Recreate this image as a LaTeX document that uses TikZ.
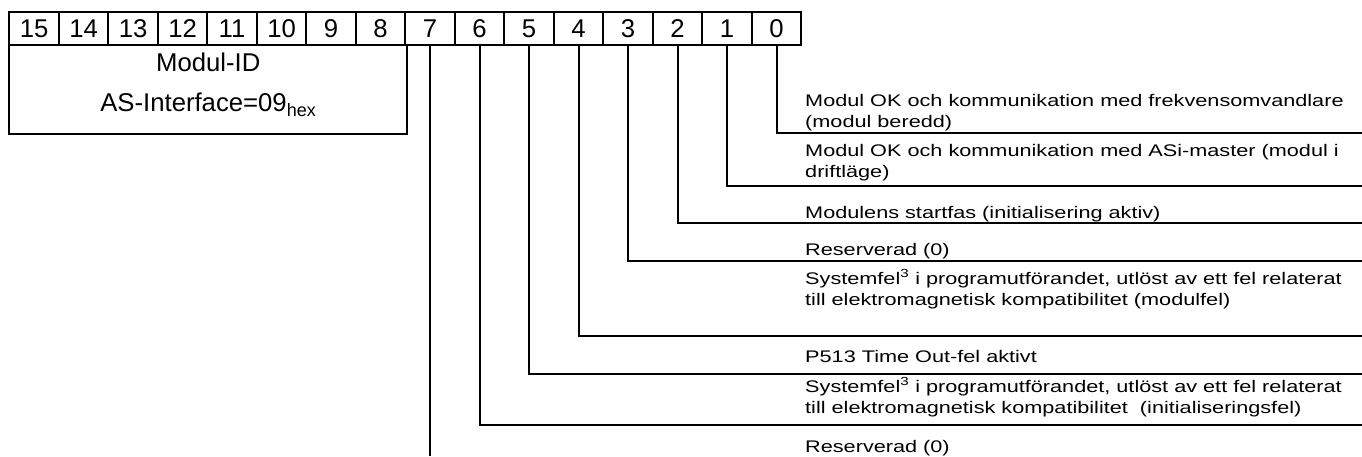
\documentclass[tikz,border=0pt]{standalone}
\usepackage{fontspec}
\setmainfont{Liberation Sans}
\newfontfamily\labelfont[FakeStretch=1.29]{Liberation Sans}
\usepackage{tikz}

\tikzset{
  bitcell/.style={draw, line width=2pt, minimum width=49.5pt, minimum height=33pt, inner sep=0pt, font=\fontsize{25.7}{30}\selectfont},
  idtext/.style={anchor=base, inner sep=0pt, font=\fontsize{25.7}{30}\selectfont},
  bitline/.style={line width=2pt},
  bitlabel/.style={anchor=base west, align=left, inner sep=0pt, font=\labelfont\fontsize{16.8}{21}\selectfont}
}

\begin{document}
\begin{tikzpicture}[x=1pt,y=1pt]
\useasboundingbox (0,0) rectangle (1362,-456);
% bit numbers 15..0
\foreach \i in {15,...,0}
  \node[bitcell] (b\i) at ({9.3+(15-\i)*49.5+24.75},-28.5) {\i};
% module id box under bits 15..8
\node[draw, line width=2pt, minimum width=398pt, minimum height=88.5pt, inner sep=0pt] (modid) at (208.3,-89.25) {};
\node[idtext] (idname) at (208.3,-71.7) {Modul-ID};
\node[idtext] (idvalue) at (208.3,-111.7) {AS-Interface=09\textsubscript{hex}};
% leads from bits 0..6 to the right edge
\foreach \i/\y in {0/133,1/185.5,2/222.7,3/261,4/336,5/373.5,6/425}{
  \coordinate (e\i) at (1362,-\y);
  \draw[bitline] (b\i.south) |- (e\i);
}
\coordinate (e7) at (0,-456);
\draw[bitline] (b7.south) -- (b7.south |- e7);
% descriptions (base = last line)
\node[bitlabel] (l0) at (805,-127.3) {Modul OK och kommunikation med frekvensomvandlare\\(modul beredd)};
\node[bitlabel] (l1) at (805,-177.5) {Modul OK och kommunikation med ASi-master (modul i\\driftläge)};
\node[bitlabel] (l2) at (805,-218) {Modulens startfas (initialisering aktiv)};
\node[bitlabel] (l3) at (805,-255) {Reserverad (0)};
\node[bitlabel] (l4) at (805,-305) {Systemfel\textsuperscript{3} i programutförandet, utlöst av ett fel relaterat\\till elektromagnetisk kompatibilitet (modulfel)};
\node[bitlabel] (l5) at (805,-362) {P513 Time Out-fel aktivt};
\node[bitlabel] (l6) at (805,-413) {Systemfel\textsuperscript{3} i programutförandet, utlöst av ett fel relaterat\\till elektromagnetisk kompatibilitet~ (initialiseringsfel)};
\node[bitlabel] (l7) at (805,-452) {Reserverad (0)};
\end{tikzpicture}
\end{document}
